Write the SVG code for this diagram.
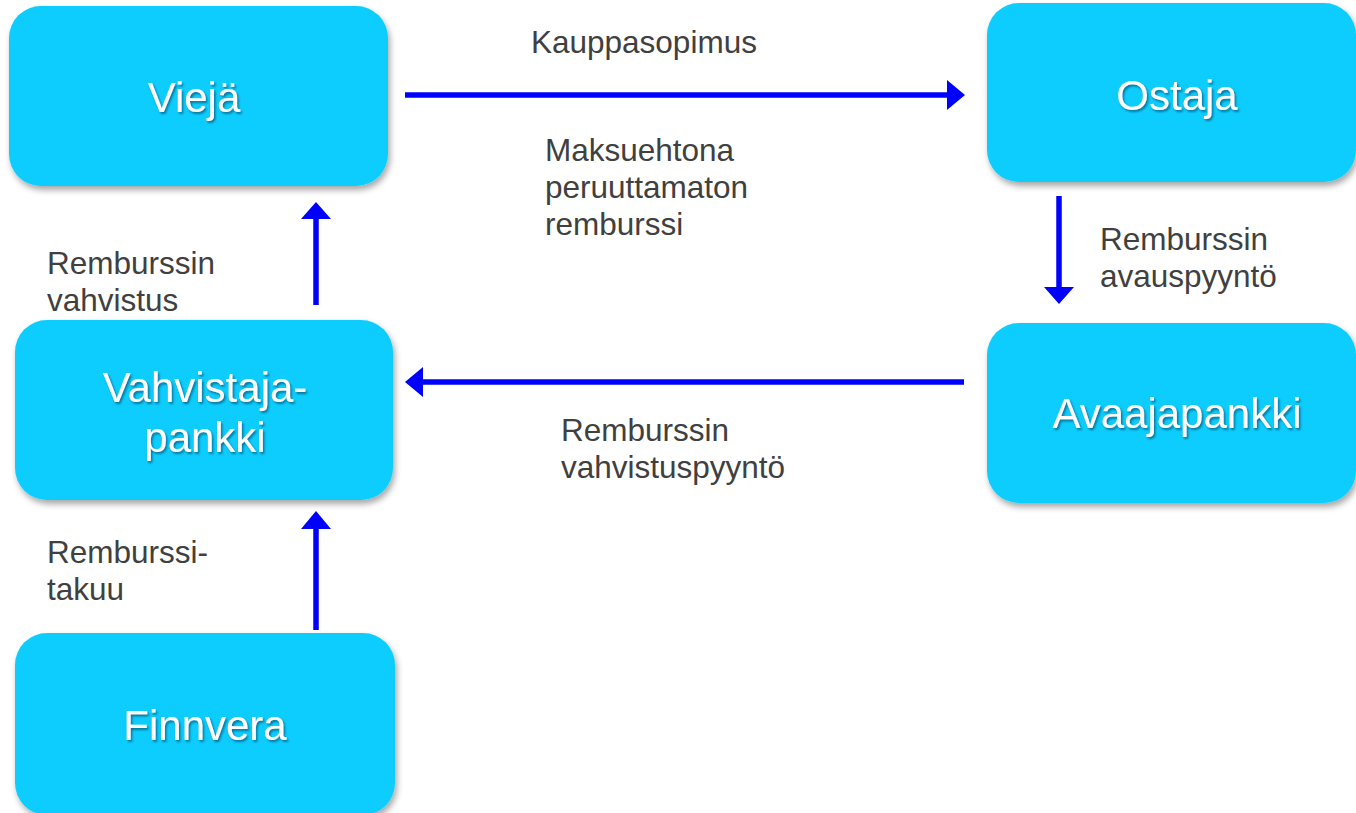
<svg xmlns="http://www.w3.org/2000/svg" width="1356" height="813" viewBox="0 0 1356 813">
<defs>
<filter id="boxShadow" x="-10%" y="-10%" width="130%" height="130%">
<feDropShadow dx="2" dy="4" stdDeviation="3" flood-color="#000" flood-opacity="0.35"/>
</filter>
<filter id="textShadow" x="-10%" y="-20%" width="130%" height="150%">
<feDropShadow dx="1.5" dy="2" stdDeviation="1" flood-color="#00506e" flood-opacity="0.7"/>
</filter>
</defs>
<style>
.box{fill:#0ACDFF;filter:url(#boxShadow)}
.ntext{font-family:"Liberation Sans",Arial,sans-serif;font-size:42px;fill:#ffffff;text-anchor:middle;filter:url(#textShadow)}
.lbl{font-family:"Liberation Sans",Arial,sans-serif;font-size:31.5px;fill:#404040}
.conn{stroke:#0000FF;stroke-width:5.5;fill:none}
.head{fill:#0000FF}
</style>
<rect width="1356" height="813" fill="#ffffff"/>
<g id="node-vieja">
<rect class="box" x="9" y="6" width="379" height="180" rx="32"/>
<text class="ntext" x="194" y="112">Viejä</text>
</g>
<g id="node-ostaja">
<rect class="box" x="987" y="3" width="369" height="179" rx="32"/>
<text class="ntext" x="1177" y="110">Ostaja</text>
</g>
<g id="node-vahvistajapankki">
<rect class="box" x="15" y="320" width="378" height="180" rx="32"/>
<text class="ntext" x="205" y="402">Vahvistaja-</text>
<text class="ntext" x="205" y="452">pankki</text>
</g>
<g id="node-avaajapankki">
<rect class="box" x="987" y="323" width="369" height="180" rx="32"/>
<text class="ntext" x="1177" y="428">Avaajapankki</text>
</g>
<g id="node-finnvera">
<rect class="box" x="15" y="633" width="380" height="182" rx="32"/>
<text class="ntext" x="205" y="740">Finnvera</text>
</g>
<g id="connectors">
<line class="conn" x1="405" y1="95" x2="948" y2="95"/>
<polygon class="head" points="947,80 965,95 947,110"/>
<line class="conn" x1="1059" y1="196" x2="1059" y2="288"/>
<polygon class="head" points="1044,287 1074,287 1059,304"/>
<line class="conn" x1="964" y1="382" x2="422" y2="382"/>
<polygon class="head" points="423,367 405,382 423,397"/>
<line class="conn" x1="316" y1="305" x2="316" y2="218"/>
<polygon class="head" points="301,219 331,219 316,202"/>
<line class="conn" x1="316" y1="630" x2="316" y2="528"/>
<polygon class="head" points="301,529 331,529 316,511"/>
</g>
<g id="labels">
<text class="lbl" x="531" y="53">Kauppasopimus</text>
<text class="lbl" x="545" y="161">Maksuehtona</text>
<text class="lbl" x="545" y="198">peruuttamaton</text>
<text class="lbl" x="545" y="235">remburssi</text>
<text class="lbl" x="1100" y="250">Remburssin</text>
<text class="lbl" x="1100" y="287">avauspyyntö</text>
<text class="lbl" x="47" y="274">Remburssin</text>
<text class="lbl" x="47" y="311">vahvistus</text>
<text class="lbl" x="561" y="441">Remburssin</text>
<text class="lbl" x="561" y="478">vahvistuspyyntö</text>
<text class="lbl" x="47" y="563">Remburssi-</text>
<text class="lbl" x="47" y="600">takuu</text>
</g>
</svg>
